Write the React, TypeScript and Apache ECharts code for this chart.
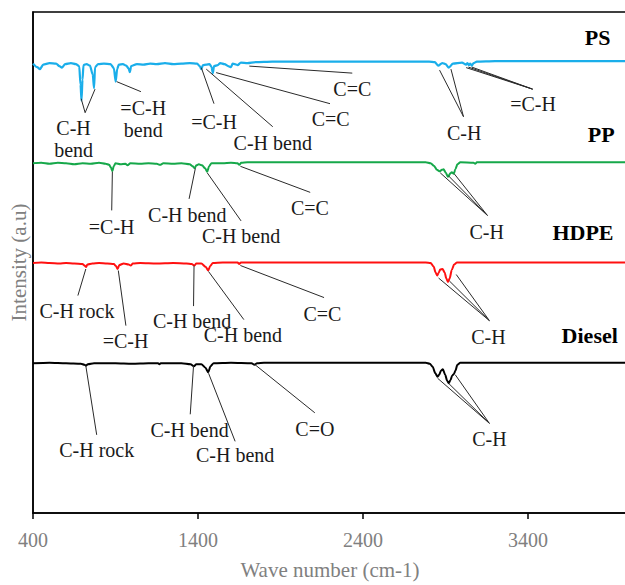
import React, { useEffect, useRef } from "react";
import * as echarts from "echarts";

// x-axis tick values (wave number, cm-1)
const xTicks = [400, 1400, 2400, 3400];

// Spectra: [wave number, intensity (offset, a.u)]
const psSpectrum: [number, number][] = [
  [400, 89.7], [425, 89.0], [442, 88.6], [462, 89.5], [500, 89.8], [540, 89.7], [560, 89.2], [575, 88.9],
  [595, 89.6], [630, 89.8], [660, 89.6], [680, 89.2], [688, 85.5], [694, 82.3], [700, 86.5], [706, 89.4],
  [725, 89.6], [745, 89.3], [762, 87.5], [770, 84.8], [776, 89.0], [795, 89.6], [830, 89.7], [870, 89.6],
  [890, 88.8], [901, 86.1], [910, 88.6], [920, 89.5], [945, 89.6], [965, 89.3], [980, 88.7], [987, 88.0],
  [995, 89.2], [1030, 89.6], [1070, 89.5], [1110, 89.7], [1150, 89.6], [1200, 89.8], [1250, 89.6],
  [1300, 89.7], [1350, 89.8], [1395, 89.7], [1410, 89.2], [1420, 88.6], [1430, 89.4], [1450, 89.5],
  [1470, 89.6], [1482, 89.0], [1490, 87.8], [1497, 89.2], [1520, 89.4], [1535, 89.8], [1560, 89.6],
  [1590, 89.1], [1600, 89.0], [1610, 89.7], [1640, 89.4], [1660, 89.9], [1700, 89.8], [1750, 90.0],
  [1850, 90.1], [2800, 90.1], [2835, 90.0], [2856, 89.3], [2880, 89.8], [2900, 89.6], [2920, 88.9],
  [2945, 89.7], [3000, 89.9], [3025, 89.5], [3033, 89.8], [3042, 89.4], [3050, 89.7], [3060, 89.3],
  [3070, 89.8], [3090, 90.1], [3200, 90.2], [4000, 90.2],
];

const ppSpectrum: [number, number][] = [
  [400, 69.8], [450, 69.9], [500, 69.7], [550, 69.9], [600, 69.8], [650, 69.6], [700, 69.8], [750, 69.7],
  [800, 69.9], [840, 69.7], [862, 69.5], [873, 68.9], [881, 68.2], [889, 69.2], [900, 69.8], [930, 69.6],
  [960, 69.7], [973, 69.4], [990, 69.8], [1050, 69.7], [1100, 69.8], [1150, 69.7], [1170, 69.5],
  [1190, 69.8], [1250, 69.7], [1300, 69.8], [1350, 69.6], [1368, 69.2], [1379, 68.8], [1390, 69.4],
  [1405, 69.6], [1425, 69.4], [1443, 68.8], [1456, 68.1], [1467, 69.2], [1482, 69.8], [1550, 69.8],
  [1600, 69.9], [1640, 69.8], [1650, 69.5], [1662, 69.9], [1700, 70.0], [2780, 70.0], [2810, 69.8],
  [2830, 69.3], [2848, 68.5], [2866, 68.2], [2878, 68.5], [2888, 68.6], [2902, 67.9], [2915, 67.1],
  [2930, 67.8], [2938, 68.0], [2950, 67.7], [2960, 68.6], [2972, 69.6], [2990, 70.0], [3070, 69.9],
  [3080, 69.7], [3090, 70.0], [4000, 70.0],
];

const hdpeSpectrum: [number, number][] = [
  [400, 49.9], [450, 50.0], [500, 49.9], [560, 49.8], [600, 49.9], [650, 49.8], [700, 49.7], [712, 49.4],
  [721, 49.1], [730, 49.6], [760, 49.8], [800, 49.9], [850, 49.8], [890, 49.7], [903, 49.3], [913, 48.7],
  [923, 49.5], [950, 49.8], [980, 49.6], [992, 49.4], [1005, 49.8], [1050, 49.9], [1150, 49.8],
  [1250, 49.9], [1330, 49.8], [1362, 49.7], [1377, 49.4], [1390, 49.8], [1420, 49.8], [1447, 49.1],
  [1462, 48.4], [1474, 49.3], [1490, 49.9], [1550, 50.0], [1640, 50.0], [1650, 49.7], [1660, 50.0],
  [2780, 50.0], [2810, 49.9], [2828, 49.2], [2840, 48.0], [2849, 47.4], [2858, 47.9], [2868, 48.6],
  [2882, 48.7], [2895, 48.0], [2905, 46.8], [2915, 46.1], [2925, 46.8], [2938, 48.5], [2952, 49.6],
  [2970, 50.0], [4000, 50.0],
];

const dieselSpectrum: [number, number][] = [
  [400, 29.9], [500, 30.0], [600, 29.9], [690, 29.8], [712, 29.6], [722, 29.4], [732, 29.7], [770, 29.9],
  [900, 29.9], [1000, 29.8], [1100, 29.9], [1158, 29.9], [1166, 29.7], [1174, 29.9], [1300, 29.9],
  [1355, 29.7], [1375, 29.3], [1390, 29.7], [1420, 29.7], [1445, 29.0], [1462, 28.1], [1476, 29.3],
  [1495, 29.9], [1600, 30.0], [1725, 29.9], [1742, 29.6], [1758, 29.9], [1800, 30.0], [2780, 30.0],
  [2805, 29.8], [2822, 29.2], [2838, 27.9], [2852, 27.2], [2862, 27.6], [2872, 28.4], [2884, 28.7],
  [2898, 27.6], [2910, 26.4], [2920, 25.9], [2930, 26.5], [2940, 27.4], [2950, 27.7], [2960, 28.4],
  [2972, 29.6], [2990, 30.0], [4000, 30.0],
];

// Sample names and their label anchors (data coordinates)
const sampleNames = ["PS", "PP", "HDPE", "Diesel"];
const sampleNameAnchors: [number, number][] = [[3822, 94.9], [3844, 75.5], [3733, 55.9], [3774, 35.4]];

// Peak annotations: tips on the spectrum -> leader end -> label
type Ann = { text: string; tips: [number, number][]; end: [number, number]; label: [number, number] };
const psAnnotations: Ann[] = [
  { text: "C-H\nbend", tips: [[692, 82.7], [776, 84.6]], end: [716, 79.9], label: [646, 74.6] },
  { text: "=C-H\nbend", tips: [[907, 86.1]], end: [1054, 84.1], label: [1068, 78.6] },
  { text: "=C-H", tips: [[1420, 88.9]], end: [1497, 81.7], label: [1497, 78.1] },
  { text: "C-H bend", tips: [[1450, 88.6]], end: [1853, 77.1], label: [1853, 73.8] },
  { text: "C=C", tips: [[1510, 87.9]], end: [2200, 81.7], label: [2204, 78.7] },
  { text: "C=C", tips: [[1711, 89.2]], end: [2335, 87.8], label: [2335, 84.6] },
  { text: "C-H", tips: [[2864, 88.4], [2933, 88.6]], end: [3009, 79.1], label: [3013, 75.8] },
  { text: "=C-H", tips: [[3025, 88.9], [3039, 89.0], [3060, 89.0]], end: [3428, 84.6], label: [3431, 81.7] },
];
const ppAnnotations: Ann[] = [
  { text: "=C-H", tips: [[881, 68.1]], end: [877, 60.4], label: [877, 57.1] },
  { text: "C-H bend", tips: [[1384, 68.8]], end: [1346, 62.7], label: [1335, 59.4] },
  { text: "C-H bend", tips: [[1456, 67.9]], end: [1661, 58.3], label: [1661, 55.3] },
  { text: "C=C", tips: [[1657, 69.2]], end: [2080, 64.0], label: [2078, 60.8] },
  { text: "C-H", tips: [[2868, 67.9], [2918, 67.3], [2953, 67.7]], end: [3154, 59.4], label: [3150, 56.1] },
];
const hdpeAnnotations: Ann[] = [
  { text: "C-H rock", tips: [[720, 48.7]], end: [672, 43.4], label: [666, 40.4] },
  { text: "=C-H", tips: [[917, 48.4]], end: [963, 37.4], label: [961, 34.3] },
  { text: "C-H bend", tips: [[1376, 49.4]], end: [1373, 41.3], label: [1364, 38.4] },
  { text: "C-H bend", tips: [[1464, 48.2]], end: [1678, 38.6], label: [1672, 35.6] },
  { text: "C=C", tips: [[1657, 49.4]], end: [2164, 43.0], label: [2154, 39.7] },
  { text: "C-H", tips: [[2858, 46.9], [2924, 46.3], [2965, 47.6]], end: [3166, 38.4], label: [3160, 35.1] },
];
const dieselAnnotations: Ann[] = [
  { text: "C-H rock", tips: [[720, 29.4]], end: [786, 15.6], label: [786, 12.6] },
  { text: "C-H bend", tips: [[1373, 29.4]], end: [1353, 19.7], label: [1349, 16.5] },
  { text: "C-H bend", tips: [[1464, 27.9]], end: [1625, 14.3], label: [1625, 11.6] },
  { text: "C=O", tips: [[1742, 29.7]], end: [2108, 20.0], label: [2108, 16.7] },
  { text: "C-H", tips: [[2852, 26.9], [2918, 25.9], [2959, 27.6]], end: [3166, 17.9], label: [3166, 14.8] },
];

const FONT = "'Liberation Serif', 'Times New Roman', Times, serif";

export default function App() {
  const ref = useRef<HTMLDivElement>(null);

  useEffect(() => {
    if (!ref.current) return;
    const chart = echarts.init(ref.current, undefined, { renderer: "svg" });
    const spectra = [psSpectrum, ppSpectrum, hdpeSpectrum, dieselSpectrum];
    const colors = ["#1aaeea", "#16a84a", "#ff1010", "#000000"];
    const widths = [2.2, 2, 2, 2];

    chart.setOption({
      animation: false,
      backgroundColor: "#ffffff",
      grid: {
        left: 31,
        right: 1,
        top: 12,
        bottom: 65,
        show: true,
        borderColor: "#000",
        borderWidth: 1.5,
      },
      xAxis: {
        type: "value",
        min: 400,
        max: 4000,
        axisLine: { show: true, lineStyle: { color: "#000", width: 1.5 } },
        axisTick: { show: true, customValues: xTicks, length: 6, lineStyle: { color: "#000", width: 1.5 } },
        axisLabel: {
          customValues: xTicks,
          color: "#808080",
          fontSize: 20,
          fontFamily: FONT,
          margin: 17,
          formatter: (v: number) => (xTicks.includes(v) ? String(v) : ""),
        },
        splitLine: { show: false },
        name: "Wave number (cm-1)",
        nameLocation: "middle",
        nameGap: 46,
        nameTextStyle: { color: "#808080", fontSize: 21, fontFamily: FONT },
      },
      yAxis: {
        type: "value",
        min: 0,
        max: 100,
        axisLine: { show: true, lineStyle: { color: "#000", width: 1.5 } },
        axisTick: { show: false },
        axisLabel: { show: false },
        splitLine: { show: false },
        name: "Intensity (a.u)",
        nameLocation: "middle",
        nameGap: 4,
        nameTextStyle: { color: "#808080", fontSize: 21, fontFamily: FONT },
      },
      series: spectra.map((d, i) => ({
        name: sampleNames[i],
        type: "line",
        data: d,
        showSymbol: false,
        symbol: "none",
        smooth: 0.25,
        smoothMonotone: "x",
        lineStyle: { color: colors[i], width: widths[i] },
        z: 3,
      })),
    });

    const px = (p: [number, number]) => chart.convertToPixel({ gridIndex: 0 }, p) as number[];
    const graphics: any[] = [];
    const allAnn = [...psAnnotations, ...ppAnnotations, ...hdpeAnnotations, ...dieselAnnotations];
    for (const a of allAnn) {
      const e = px(a.end);
      for (const t of a.tips) {
        const s = px(t);
        graphics.push({
          type: "line",
          shape: { x1: s[0], y1: s[1], x2: e[0], y2: e[1] },
          style: { stroke: "#2a2a2a", lineWidth: 1 },
          z: 50,
        });
      }
      const l = px(a.label);
      graphics.push({
        type: "text",
        x: l[0],
        y: l[1],
        style: {
          text: a.text,
          fill: "#1a1a1a",
          fontSize: 20,
          fontFamily: FONT,
          align: "center",
          verticalAlign: "middle",
          lineHeight: 22,
        },
        z: 50,
      });
    }
    sampleNames.forEach((n, i) => {
      const p = px(sampleNameAnchors[i]);
      graphics.push({
        type: "text",
        x: p[0],
        y: p[1],
        style: {
          text: n,
          fill: "#000",
          fontSize: 22,
          fontWeight: "bold",
          fontFamily: FONT,
          align: "center",
          verticalAlign: "middle",
        },
        z: 50,
      });
    });
    chart.setOption({ graphic: graphics });

    return () => chart.dispose();
  }, []);

  return (
    <div
      style={{
        position: "fixed",
        left: 0,
        top: 0,
        width: 625,
        height: 585,
        overflow: "hidden",
        background: "#fff",
      }}
    >
      <div ref={ref} style={{ width: 628, height: 585 }} />
    </div>
  );
}
